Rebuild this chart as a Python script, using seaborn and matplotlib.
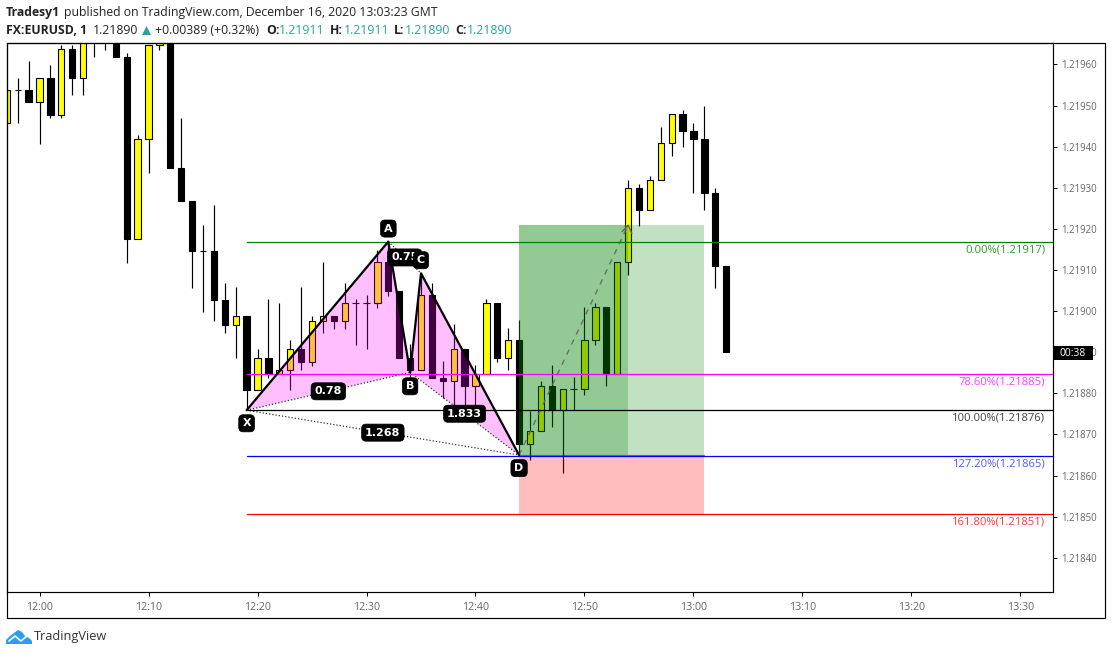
import numpy as np
import pandas as pd
import matplotlib
matplotlib.use("Agg")
import matplotlib.pyplot as plt
from matplotlib.patches import Rectangle, Polygon, Circle
import seaborn as sns

# ---- data ----
minutes = list(range(-3, 64))
opens = [1.219457,1.219537,1.219537,1.219508,1.219568,1.219478,1.219637,1.219568,1.219684,1.219680,
         1.219690,1.219617,1.219175,1.219418,1.219647,1.219680,1.219347,1.219267,1.219147,1.219147,
         1.219028,1.218967,1.218987,1.218809,1.218887,1.218847,1.218857,1.218909,1.218877,1.218977,
         1.218987,1.218977,1.219019,1.219019,1.219019,1.219119,1.219048,1.218887,1.218857,1.219038,
         1.218838,1.218829,1.218909,1.218819,1.218848,1.219019,1.218887,1.218929,1.218677,1.218708,
         1.218819,1.218759,1.218810,1.218810,1.218929,1.219009,1.218847,1.219119,1.219299,1.219247,
         1.219319,1.219408,1.219479,1.219437,1.219418,1.219288,1.219109]
closes = [1.219537,1.219537,1.219508,1.219568,1.219478,1.219637,1.219568,1.219684,1.219680,1.219690,
          1.219617,1.219175,1.219418,1.219647,1.219680,1.219347,1.219267,1.219147,1.219147,1.219028,
          1.218967,1.218987,1.218809,1.218887,1.218847,1.218857,1.218909,1.218877,1.218977,1.218987,
          1.218977,1.219019,1.219019,1.219019,1.219119,1.219048,1.218887,1.218857,1.219038,1.218838,
          1.218829,1.218909,1.218819,1.218848,1.219019,1.218887,1.218929,1.218677,1.218708,1.218819,
          1.218759,1.218810,1.218810,1.218929,1.219009,1.218847,1.219119,1.219299,1.219247,1.219319,
          1.219408,1.219479,1.219437,1.219418,1.219288,1.219109,1.218900]
highs = [1.219537,1.219568,1.219608,1.219568,1.219599,1.219648,1.219648,1.219690,1.219700,1.219700,
         1.219700,1.219627,1.219428,1.219647,1.219690,1.219690,1.219469,1.219267,1.219209,1.219258,
         1.219068,1.219059,1.218987,1.218909,1.219029,1.219019,1.218930,1.219058,1.218987,1.219119,
         1.218987,1.219068,1.219029,1.219038,1.219149,1.219169,1.219048,1.218919,1.219092,1.219068,
         1.218879,1.218968,1.218909,1.218869,1.219029,1.219019,1.218959,1.218978,1.218758,1.218830,
         1.218868,1.218810,1.218840,1.219009,1.219019,1.219009,1.219119,1.219319,1.219309,1.219329,
         1.219447,1.219479,1.219489,1.219457,1.219499,1.219299,1.219109]
lows = [1.219457,1.219457,1.219508,1.219407,1.219469,1.219469,1.219526,1.219526,1.219617,1.219636,
        1.219617,1.219118,1.219175,1.219337,1.219636,1.219347,1.219267,1.219057,1.218999,1.218976,
        1.218947,1.218887,1.218759,1.218809,1.218838,1.218847,1.218808,1.218857,1.218867,1.218947,
        1.218956,1.218957,1.218918,1.218908,1.219008,1.219037,1.218887,1.218840,1.218857,1.218838,
        1.218788,1.218759,1.218743,1.218743,1.218848,1.218877,1.218857,1.218650,1.218639,1.218708,
        1.218719,1.218607,1.218759,1.218797,1.218918,1.218819,1.218847,1.219089,1.219208,1.219247,
        1.219319,1.219378,1.219398,1.219288,1.219247,1.219057,1.218900]

pattern_names = ["X", "A", "B", "C", "D"]
pattern_minutes = [19, 32, 34, 35, 44]
pattern_prices = [1.218759, 1.219169, 1.218851, 1.219092, 1.218650]
ratio_labels = ["0.78", "0.75", "1.833", "1.268"]

level_names = ["0.00%(1.21917)", "78.60%(1.21885)", "100.00%(1.21876)", "127.20%(1.21865)", "161.80%(1.21851)"]
level_prices = [1.219167, 1.218846, 1.218759, 1.218647, 1.218506]
level_colors = ["#008000", "#ff00ff", "#000000", "#0000ff", "#ff0000"]
level_text_colors = ["#2e9a2e", "#ff40ff", "#444444", "#4a5cff", "#ff3a3a"]

position_start, position_mid, position_end = 44, 54, 61
position_target, position_entry, position_stop = 1.219209, 1.218650, 1.218506

price_ticks = [1.2184, 1.2185, 1.2186, 1.2187, 1.2188, 1.2189, 1.2190, 1.2191, 1.2192, 1.2193, 1.2194, 1.2195, 1.2196]
time_ticks = [0, 10, 20, 30, 40, 50, 60, 70, 80, 90]
time_labels = ["12:00", "12:10", "12:20", "12:30", "12:40", "12:50", "13:00", "13:10", "13:20", "13:30"]

# ---- figure ----
sns.set_theme(style="white")
plt.rcParams["font.family"] = ["Open Sans", "DejaVu Sans"]
W, H = 1112, 655
fig = plt.figure(figsize=(W / 100, H / 100), dpi=100, facecolor="white")
L, R, T, B = 6.5, 1052.5, 43, 592
ax = fig.add_axes([L / W, 1 - B / H, (R - L) / W, (B - T) / H])
ax.set_xlim(-3.03, 92.94)
ax.set_ylim(1.218317, 1.219652)

def fx(x): return x / W
def fy(y): return 1 - y / H

df = pd.DataFrame({"minute": minutes, "open": opens, "close": closes, "high": highs, "low": lows})

# candles
ax.vlines(df["minute"], df["low"], df["high"], color="black", lw=0.85, zorder=2)
up = df["close"] >= df["open"]
body_colors = ["#ffff00" if u else "#000000" for u in up]
ax.bar(df["minute"], (df["close"] - df["open"]).abs(), bottom=df[["open", "close"]].min(axis=1),
       width=0.58, color=body_colors, edgecolor="black", linewidth=0.8, zorder=2.5)

# position tool
ax.fill_between([position_start, position_end], position_entry, position_target,
                color="#008000", alpha=0.24, lw=0, zorder=3)
ax.fill_between([position_start, position_mid], position_entry, position_target,
                color="#008000", alpha=0.24, lw=0, zorder=3)
ax.fill_between([position_start, position_end], position_stop, position_entry,
                color="#ff0000", alpha=0.26, lw=0, zorder=3)
sns.lineplot(x=[position_start, position_end], y=[position_entry, position_entry], ax=ax,
             color="#203060", lw=0.8, alpha=0.6, zorder=3.2, legend=False, errorbar=None)
sns.lineplot(x=[position_start, position_mid], y=[position_entry, position_target], ax=ax,
             color="#666666", lw=1.0, alpha=0.9, zorder=3.2, legend=False, errorbar=None,
             linestyle=(0, (4, 4)))
ax.plot([position_mid - 0.55, position_mid, position_mid + 0.35],
        [position_target - 0.000016, position_target, position_target - 0.000020],
        color="#666666", lw=1.0, zorder=3.2)

# harmonic pattern
px = dict(zip(pattern_names, pattern_minutes))
py = dict(zip(pattern_names, pattern_prices))
ax.fill([px[k] for k in "XAB"], [py[k] for k in "XAB"], color="#ff00ff", alpha=0.25, lw=0, zorder=3)
ax.fill([px[k] for k in "BCD"], [py[k] for k in "BCD"], color="#ff00ff", alpha=0.25, lw=0, zorder=3)
sns.lineplot(x=pattern_minutes, y=pattern_prices, ax=ax, sort=False,
             color="black", lw=1.6, zorder=4.2, legend=False, errorbar=None)
pairs = [("X", "B"), ("A", "C"), ("B", "D"), ("X", "D")]
for a, b in pairs:
    ax.plot([px[a], px[b]], [py[a], py[b]], color="#333333", lw=0.9, ls=(0, (1, 1.6)), zorder=4)

# fib levels
for price, col, name, tcol in zip(level_prices, level_colors, level_names, level_text_colors):
    sns.lineplot(x=[pattern_minutes[0], 93], y=[price, price], ax=ax, color=col, lw=0.9,
                 zorder=4.1, legend=False, errorbar=None)
    ax.annotate(name, xy=(1, price), xycoords=("axes fraction", "data"), xytext=(-5.2, -1.8),
                textcoords="offset points", ha="right", va="top", color=tcol, fontsize=8.1, zorder=4.3)

# labels on the pattern
box = dict(boxstyle="round,pad=0.32,rounding_size=0.4", fc="black", ec="black", lw=0.5)
bold = dict(color="white", fontsize=8.0, fontweight="bold", family="DejaVu Sans", ha="center", va="center", zorder=5)
offsets = {"X": (0, -9.4), "A": (0, 9.4), "B": (0, -10), "C": (0, 9.4), "D": (0, -9.4)}
for (a, b), txt in zip(pairs, ratio_labels):
    ax.annotate(txt, xy=((px[a] + px[b]) / 2, (py[a] + py[b]) / 2), bbox=box, annotation_clip=False, **bold)
for name in pattern_names:
    ax.annotate(name, xy=(px[name], py[name]), xytext=offsets[name], textcoords="offset points",
                bbox=box, **bold)

# axes
ax.set_xticks(time_ticks, time_labels)
ax.yaxis.tick_right()
ax.set_yticks(price_ticks, [f"{p:.5f}" for p in price_ticks])
ax.tick_params(axis="both", length=3.2, width=0.7, color="black", labelcolor="#666666", pad=3)
ax.tick_params(axis="x", pad=4.0, bottom=True, labelsize=7.7)
ax.tick_params(axis="y", right=True, left=False, labelsize=6.9)
ax.grid(False)
for s in ax.spines.values():
    s.set_color("black")
    s.set_linewidth(0.85)
ax.set_xlabel("")
ax.set_ylabel("")

# outer frame
fig.add_artist(Rectangle((fx(L), fy(618)), (1105 - L) / W, (618 - T) / H, transform=fig.transFigure,
                         fill=False, ec="black", lw=0.85))

# countdown tag
fig.add_artist(Rectangle((fx(1053), fy(360.5)), 40 / W, 14.5 / H, transform=fig.transFigure,
                         fc="black", ec="none", zorder=6))
fig.text(fx(1073), fy(353.4), "00:38", color="white", fontsize=7.4, ha="center", va="center", zorder=7)

# header
hdr = dict(color="#222222", fontsize=8.8, va="center")
fig.text(fx(6), fy(12.5), "Tradesy1", fontweight="bold", **hdr)
fig.text(fx(64), fy(12.5), "published on TradingView.com, December 16, 2020 13:03:23 GMT", **hdr)
fig.text(fx(6), fy(30), "FX:EURUSD, 1", fontweight="bold", **hdr)
fig.text(fx(93), fy(30), "1.21890", **hdr)
fig.add_artist(Polygon([[fx(142), fy(35)], [fx(151), fy(35)], [fx(146.5), fy(26)]], transform=fig.transFigure,
                       fc="#26a69a", ec="none"))
fig.text(fx(155), fy(30), "+0.00389 (+0.32%)", **hdr)
teal = dict(color="#26a69a", fontsize=8.8, va="center")
for lx, lab, vx, val in [(266, "O:", 279, "1.21911"), (330, "H:", 344, "1.21911"),
                         (394, "L:", 405, "1.21890"), (455, "C:", 467, "1.21890")]:
    fig.text(fx(lx), fy(30), lab, fontweight="bold", **hdr)
    fig.text(fx(vx), fy(30), val, **teal)

# logo
cloud = [(6, 644), (6, 640), (10, 636), (14, 633), (18, 630), (22, 632), (25, 636), (29, 638), (32, 641), (32, 644)]
fig.add_artist(Polygon([[fx(a), fy(b)] for a, b in cloud], transform=fig.transFigure, fc="#2a9df4", ec="none"))
fig.add_artist(plt.Line2D([fx(9), fx(15), fx(21), fx(27)], [fy(641), fy(636), fy(641), fy(636)],
                          transform=fig.transFigure, color="white", lw=1.2))
fig.text(fx(34), fy(636.5), "TradingView", color="#333333", fontsize=9.2, va="center")

fig.savefig("out.png", dpi=100)
